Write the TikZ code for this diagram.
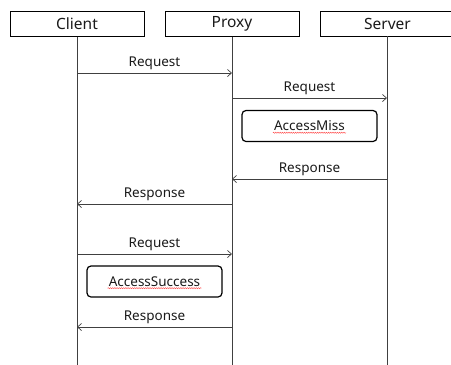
\documentclass[tikz,border=0pt]{standalone}
\usepackage{fontspec}
\setmainfont{Noto Sans}
\usetikzlibrary{arrows.meta,decorations.pathmorphing}
\definecolor{lineclr}{HTML}{404040}
\definecolor{textclr}{HTML}{1A1A1A}
\tikzset{
  actor/.style={draw=black,line width=1pt,minimum width=134pt,minimum height=25pt,inner sep=0pt,text=textclr,font=\fontsize{15.5}{16}\selectfont},
  lifeline/.style={draw=lineclr,line width=0.8pt},
  msg/.style={draw=lineclr,line width=0.8pt,-{Straight Barb[length=4pt,width=7pt,line width=0.7pt]}},
  msglabel/.style={font=\fontsize{13.5}{14}\selectfont,text=textclr,inner sep=1pt},
  statebox/.style={draw=black,line width=1.2pt,rounded corners=4pt,minimum width=135pt,minimum height=31pt,inner sep=0pt},
  spell/.style={draw=red!80,line width=0.35pt,decorate,decoration={snake,amplitude=0.6pt,segment length=2.2pt}}
}
\begin{document}
\begin{tikzpicture}[x=1pt,y=-1pt]
  \useasboundingbox[fill=white] (0,0) rectangle (451,365);

  % participants
  \node[actor] (client) at (77,23.5) {Client};
  \node[actor] (proxy) at (232,23.5) {Proxy};
  \node[actor,anchor=west] (server) at (320,23.5) {Server};

  % lifeline end points
  \coordinate (cEnd) at (77,365);
  \coordinate (pEnd) at (232,365);
  \coordinate (sEnd) at (387,365);
  \coordinate (sTop) at (387,36);
  \draw[lifeline] (client.south) -- (cEnd);
  \draw[lifeline] (proxy.south) -- (pEnd);
  \draw[lifeline] (sTop) -- (sEnd);

  % message anchor points on the lifelines
  \coordinate (c1) at (77,73);   \coordinate (p1) at (232,73);
  \coordinate (p2) at (232,98);  \coordinate (s2) at (387,98);
  \coordinate (s3) at (387,179); \coordinate (p3) at (232,179);
  \coordinate (p4) at (232,204); \coordinate (c4) at (77,204);
  \coordinate (c5) at (77,254);  \coordinate (p5) at (232,254);
  \coordinate (p6) at (232,327); \coordinate (c6) at (77,327);

  % messages
  \draw[msg] (c1) -- node[msglabel,above=2pt] {Request} (p1);
  \draw[msg] (p2) -- node[msglabel,above=2pt] {Request} (s2);
  \draw[msg] (s3) -- node[msglabel,above=2pt] {Response} (p3);
  \draw[msg] (p4) -- node[msglabel,above=2pt] {Response} (c4);
  \draw[msg] (c5) -- node[msglabel,above=2pt] {Request} (p5);
  \draw[msg] (p6) -- node[msglabel,above=2pt] {Response} (c6);

  % states
  \node[statebox] (miss) at (309.5,126) {};
  \node[msglabel] (missText) at (miss.center) {AccessMiss};
  \draw[spell] ([yshift=-0.5pt]missText.south west) -- ([yshift=-0.5pt]missText.south east);

  \node[statebox] (hit) at (154.5,281.5) {};
  \node[msglabel] (hitText) at (hit.center) {AccessSuccess};
  \draw[spell] ([yshift=-0.5pt]hitText.south west) -- ([yshift=-0.5pt]hitText.south east);
\end{tikzpicture}
\end{document}
